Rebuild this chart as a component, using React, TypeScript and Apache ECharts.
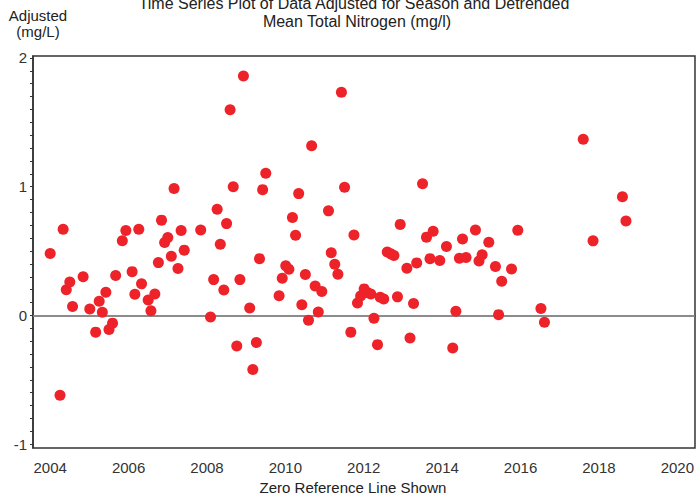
import React, { useEffect, useRef } from "react";
import * as echarts from "echarts";

const titleLines = [
  "Time Series Plot of Data Adjusted for Season and Detrended",
  "Mean Total Nitrogen (mg/l)",
];
const yAxisNameLines = ["Adjusted", "(mg/L)"];
const xAxisName = "Zero Reference Line Shown";

const xTickValues = [2004, 2006, 2008, 2010, 2012, 2014, 2016, 2018, 2020];
const yTickValues = [-1, 0, 1, 2];

const years = [
  2004.0, 2004.25, 2004.33, 2004.41, 2004.5, 2004.57, 2004.84, 2005.01, 2005.16, 2005.25,
  2005.33, 2005.42, 2005.5, 2005.59, 2005.67, 2005.84, 2005.93, 2006.09, 2006.16, 2006.26,
  2006.33, 2006.5, 2006.57, 2006.67, 2006.76, 2006.84, 2006.92, 2007.0, 2007.09, 2007.16,
  2007.26, 2007.34, 2007.42, 2007.84, 2008.09, 2008.17, 2008.26, 2008.34, 2008.43, 2008.5,
  2008.59, 2008.67, 2008.76, 2008.84, 2008.93, 2009.09, 2009.17, 2009.26, 2009.34, 2009.42,
  2009.5, 2009.84, 2009.92, 2010.01, 2010.09, 2010.18, 2010.26, 2010.34, 2010.42, 2010.51,
  2010.59, 2010.67, 2010.76, 2010.84, 2010.93, 2011.1, 2011.17, 2011.26, 2011.34, 2011.43,
  2011.51, 2011.67, 2011.75, 2011.84, 2011.92, 2012.01, 2012.09, 2012.18, 2012.26, 2012.35,
  2012.42, 2012.51, 2012.6, 2012.69, 2012.77, 2012.86, 2012.93, 2013.1, 2013.18, 2013.27,
  2013.35, 2013.5, 2013.6, 2013.69, 2013.77, 2013.94, 2014.11, 2014.27, 2014.35, 2014.44,
  2014.52, 2014.61, 2014.85, 2014.94, 2015.02, 2015.19, 2015.36, 2015.44, 2015.52, 2015.77,
  2015.93, 2016.52, 2016.61, 2017.6, 2017.85, 2018.6, 2018.69,
];

const adjustedValues = [
  0.48, -0.62, 0.67, 0.2, 0.26, 0.07, 0.3, 0.05, -0.13, 0.11,
  0.025, 0.18, -0.11, -0.06, 0.31, 0.58, 0.66, 0.34, 0.165, 0.67,
  0.245, 0.12, 0.037, 0.167, 0.41, 0.74, 0.566, 0.605, 0.46, 0.985,
  0.364, 0.66, 0.507, 0.664, -0.012, 0.278, 0.825, 0.553, 0.198, 0.713,
  1.597, 1.0, -0.237, 0.278, 1.86, 0.058, -0.42, -0.21, 0.441, 0.977,
  1.105, 0.152, 0.289, 0.385, 0.359, 0.76, 0.623, 0.946, 0.082, 0.317,
  -0.037, 1.317, 0.229, 0.027, 0.185, 0.812, 0.486, 0.398, 0.32, 1.734,
  0.996, -0.13, 0.625, 0.097, 0.151, 0.206, 0.177, 0.167, -0.022, -0.227,
  0.141, 0.128, 0.493, 0.478, 0.465, 0.144, 0.707, 0.367, -0.175, 0.092,
  0.408, 1.022, 0.608, 0.441, 0.654, 0.426, 0.535, -0.253, 0.033, 0.444,
  0.594, 0.449, 0.664, 0.423, 0.472, 0.569, 0.379, 0.006, 0.266, 0.361,
  0.662, 0.053, -0.053, 1.369, 0.579, 0.921, 0.734,
];

const FONT = "'Liberation Sans', Arial, sans-serif";

export default function App() {
  const ref = useRef<HTMLDivElement>(null);

  useEffect(() => {
    if (!ref.current) return;
    const chart = echarts.init(ref.current, null, { renderer: "svg" });

    const minorTicks: number[] = [];
    for (let i = -10; i <= 20; i++) minorTicks.push(Math.round(i) / 10);

    chart.setOption({
      animation: false,
      backgroundColor: "#ffffff",
      textStyle: { fontFamily: FONT },
      grid: {
        left: 33,
        right: 1,
        top: 56,
        bottom: 47,
        show: true,
        borderColor: "#333",
        borderWidth: 1.5,
      },
      xAxis: {
        type: "value",
        min: 2003.561,
        max: 2020.451,
        axisLine: { show: true, lineStyle: { color: "#333", width: 1.5 } },
        axisTick: { show: false },
        splitLine: { show: false },
        axisLabel: {
          show: true,
          customValues: xTickValues,
          color: "#333",
          fontSize: 15,
          fontFamily: FONT,
          margin: 12,
          formatter: (v: number) => String(v),
        },
      },
      yAxis: {
        type: "value",
        min: -1.03,
        max: 2.015,
        axisLine: { show: true, lineStyle: { color: "#333", width: 1.5 } },
        axisTick: {
          show: true,
          customValues: minorTicks,
          length: 3,
          lineStyle: { color: "#333", width: 1 },
        },
        splitLine: { show: false },
        axisLabel: {
          show: true,
          customValues: yTickValues,
          color: "#333",
          fontSize: 15,
          fontFamily: FONT,
          margin: 6,
          formatter: (v: number) => String(v),
        },
      },
      graphic: [
        {
          type: "text",
          x: 354,
          y: 3,
          style: {
            text: titleLines[0],
            fill: "#222",
            font: `16px ${FONT}`,
            textAlign: "center",
            textVerticalAlign: "middle",
          },
        },
        {
          type: "text",
          x: 357,
          y: 21,
          style: {
            text: titleLines[1],
            fill: "#222",
            font: `16px ${FONT}`,
            textAlign: "center",
            textVerticalAlign: "middle",
          },
        },
        {
          type: "text",
          x: 38,
          y: 15,
          style: {
            text: yAxisNameLines[0],
            fill: "#222",
            font: `15px ${FONT}`,
            textAlign: "center",
            textVerticalAlign: "middle",
          },
        },
        {
          type: "text",
          x: 38,
          y: 31,
          style: {
            text: yAxisNameLines[1],
            fill: "#222",
            font: `15px ${FONT}`,
            textAlign: "center",
            textVerticalAlign: "middle",
          },
        },
        {
          type: "text",
          x: 353,
          y: 487,
          style: {
            text: xAxisName,
            fill: "#222",
            font: `15px ${FONT}`,
            textAlign: "center",
            textVerticalAlign: "middle",
          },
        },
      ],
      series: [
        {
          type: "scatter",
          data: years.map((x, i) => [x, adjustedValues[i]]),
          symbol: "circle",
          symbolSize: 11,
          itemStyle: { color: "#EE2229", opacity: 1 },
          silent: true,
          markLine: {
            silent: true,
            symbol: "none",
            label: { show: false },
            lineStyle: { color: "#999", width: 1.5, type: "solid" },
            data: [{ yAxis: 0 }],
            z: 1,
          },
          z: 3,
        },
      ],
    });

    return () => chart.dispose();
  }, []);

  return <div ref={ref} style={{ width: 697, height: 495, position: "absolute", left: 0, top: 0 }} />;
}
